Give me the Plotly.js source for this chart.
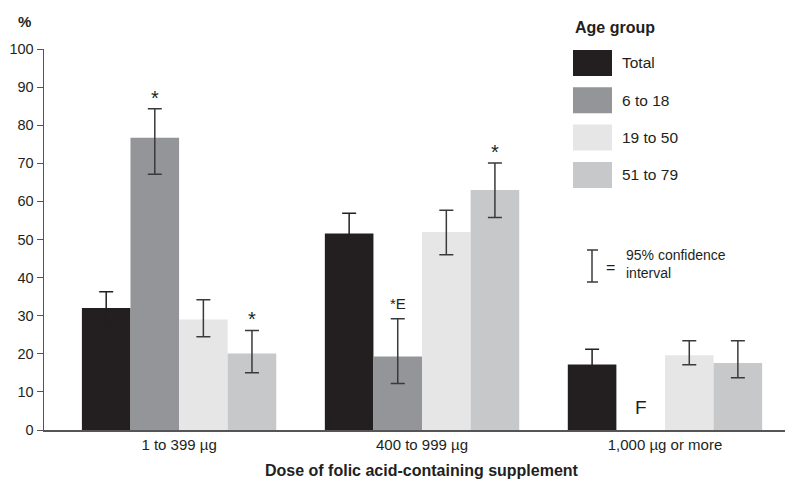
<!DOCTYPE html>
<html><head><meta charset="utf-8">
<script src="https://cdn.plot.ly/plotly-3.0.1.min.js"></script>
<style>body{margin:0;background:#fff}#c{width:792px;height:481px}</style>
</head><body><div id="c"></div>
<script>
var categories = ["1 to 399 µg", "400 to 999 µg", "1,000 µg or more"];
var seriesNames = ["Total", "6 to 18", "19 to 50", "51 to 79"];
var seriesColors = ["#231f20", "#939598", "#e6e6e6", "#c7c8ca"];
var total   = [32.0, 51.6, 17.2];
var age6    = [76.7, 19.3, null];
var age19   = [29.0, 52.0, 19.6];
var age51   = [20.1, 63.0, 17.6];
var totalHi = [36.3, 56.9, 21.2];
var totalLo = [27.8, 46.4, 13.3];
var age6Hi  = [84.3, 29.2, null];
var age6Lo  = [67.1, 12.2, null];
var age19Hi = [34.2, 57.7, 23.4];
var age19Lo = [24.5, 46.0, 17.1];
var age51Hi = [26.1, 70.1, 23.4];
var age51Lo = [15.0, 55.8, 13.7];
// flags: [seriesIndex, categoryIndex, label]
var flags = [[1, 0, "*"], [3, 0, "*"], [1, 1, "*E"], [3, 1, "*"], [1, 2, "F"]];

var vals = [total, age6, age19, age51];
var his = [totalHi, age6Hi, age19Hi, age51Hi];
var los = [totalLo, age6Lo, age19Lo, age51Lo];

var FONT = "'Liberation Sans Narrow', 'Arial Narrow', 'Liberation Sans', Arial, sans-serif";
var INK = "#231f20";
var ERR = "#3a3a3a";

var traces = seriesNames.map(function(n, i) {
  return {
    type: "bar", name: n, x: categories, y: vals[i],
    marker: {color: seriesColors[i], line: {width: 0}},
    error_y: {
      type: "data", symmetric: false,
      array: vals[i].map(function(v, j){ return v == null ? null : his[i][j] - v; }),
      arrayminus: vals[i].map(function(v, j){ return v == null ? null : v - los[i][j]; }),
      color: i === 0 ? INK : ERR, thickness: 1.5, width: 7
    },
    showlegend: false, hoverinfo: "none"
  };
});

// plot area in pixels
var L = 44, R = 785, T = 49, B = 430;
function px(x){ return (x - L) / (R - L); }
function py(y){ return (B - y) / (B - T); }

var shapes = [], ann = [];
// legend
ann.push({xref:"paper", yref:"paper", x:px(573), y:py(27), xanchor:"left", yanchor:"middle",
  text:"<b>Age group</b>", showarrow:false, font:{family:FONT, size:16, color:INK}});
seriesNames.forEach(function(n, i){
  var top = 50 + i*37.3;
  shapes.push({type:"rect", xref:"paper", yref:"paper", x0:px(573), x1:px(612), y0:py(top), y1:py(top+26),
    fillcolor:seriesColors[i], line:{width:0}});
  ann.push({xref:"paper", yref:"paper", x:px(620), y:py(top+13), xanchor:"left", yanchor:"middle",
    text:n, showarrow:false, font:{family:FONT, size:15.5, color:INK}});
});
// CI key
shapes.push({type:"line", xref:"paper", yref:"paper", x0:px(592), x1:px(592), y0:py(250), y1:py(282), line:{color:ERR, width:1.5}});
shapes.push({type:"line", xref:"paper", yref:"paper", x0:px(587), x1:px(598), y0:py(250), y1:py(250), line:{color:ERR, width:1.5}});
shapes.push({type:"line", xref:"paper", yref:"paper", x0:px(587), x1:px(598), y0:py(282), y1:py(282), line:{color:ERR, width:1.5}});
ann.push({xref:"paper", yref:"paper", x:px(604), y:py(267), xanchor:"left", yanchor:"middle",
  text:"=", showarrow:false, font:{family:FONT, size:16, color:INK}});
ann.push({xref:"paper", yref:"paper", x:px(624), y:py(264), xanchor:"left", yanchor:"middle", align:"left",
  text:"95% confidence<br>interval", showarrow:false, font:{family:FONT, size:14, color:INK}});
// % label
ann.push({xref:"paper", yref:"paper", x:px(24), y:py(22), xanchor:"center", yanchor:"middle",
  text:"<b>%</b>", showarrow:false, font:{family:FONT, size:15, color:INK}});
// x axis title
ann.push({xref:"paper", yref:"paper", x:px(421.5), y:py(470), xanchor:"center", yanchor:"middle",
  text:"<b>Dose of folic acid-containing supplement</b>", showarrow:false, font:{family:FONT, size:16, color:INK}});
// flags
var offs = [-0.3, -0.1, 0.1, 0.3];
flags.forEach(function(f){
  var s = f[0], c = f[1], lab = f[2];
  var star = lab === "*";
  var yv = his[s][c] != null ? his[s][c] + (star ? -0.5 : 1.2) : 2.5;
  ann.push({xref:"x", yref:"y", x:c + offs[s], y:yv, xanchor:"center", yanchor:"bottom",
    text:lab, showarrow:false, font:{family:FONT, size: lab === "F" ? 19 : (star ? 20 : 15), color:INK}});
});

var layout = {
  width: 792, height: 481,
  margin: {l: L, r: 792 - R, t: T, b: 481 - B},
  paper_bgcolor: "#fff", plot_bgcolor: "#fff",
  barmode: "group", bargap: 0.2, bargroupgap: 0,
  font: {family: FONT, size: 14, color: INK},
  xaxis: {
    type: "category", range: [-0.556, 2.494], showgrid: false, zeroline: false,
    showline: true, linecolor: "#555", linewidth: 1.5, ticks: "",
    tickfont: {family: FONT, size: 15, color: INK}
  },
  yaxis: {
    range: [0, 100], dtick: 10, showgrid: false, zeroline: false,
    showline: true, linecolor: "#555", linewidth: 1.5, ticks: "outside", ticklen: 6, tickcolor: "#555",
    tickfont: {family: FONT, size: 14.5, color: INK}
  },
  shapes: shapes, annotations: ann
};
Plotly.newPlot("c", traces, layout, {staticPlot: true, displayModeBar: false});
</script></body></html>
